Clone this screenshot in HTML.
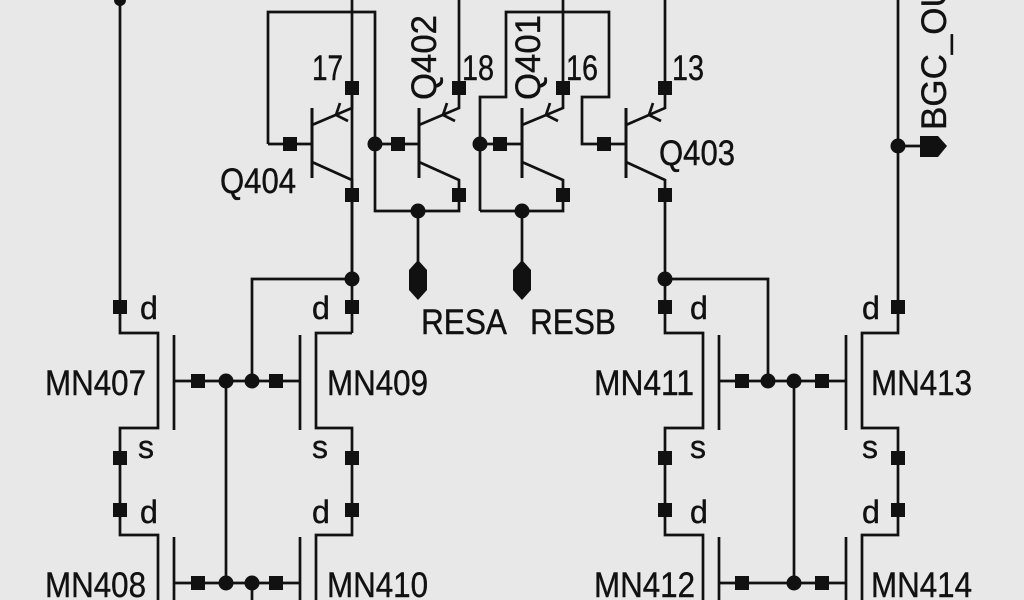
<!DOCTYPE html>
<html><head><meta charset="utf-8"><style>
html,body{margin:0;padding:0;background:#e8e8e8;}
svg{display:block;}
text{font-family:"Liberation Sans",sans-serif;fill:#111;}
</style></head><body>
<svg width="1024" height="600" viewBox="0 0 1024 600" xmlns="http://www.w3.org/2000/svg">
<rect width="1024" height="600" fill="#e8e8e8"/>
<g stroke="#111" stroke-width="2.7" fill="none">
<polyline points="120,0 120,333 158,333 158,428 120,428 120,535 158,535 158,600"/>
<line x1="174" y1="335" x2="174" y2="430"/>
<line x1="174" y1="537" x2="174" y2="600"/>
<line x1="352" y1="0" x2="352" y2="333"/>
<polyline points="352,333 316,333 316,428 352,428 352,535 316,535 316,600"/>
<line x1="300" y1="335" x2="300" y2="430"/>
<line x1="300" y1="537" x2="300" y2="600"/>
<line x1="174" y1="381" x2="300" y2="381"/>
<line x1="174" y1="583" x2="300" y2="583"/>
<line x1="226" y1="381" x2="226" y2="583"/>
<polyline points="252,381 252,279 352,279"/>
<line x1="252" y1="583" x2="252" y2="600"/>
<!-- Q404 -->
<line x1="312" y1="108" x2="312" y2="178" stroke-width="3"/>
<polyline points="268,144 312,144"/>
<polyline points="312,125 352,108 352,88"/>
<polyline points="312,162 352,180 352,279"/>
<polyline points="268,144 268,12 375,12 375,211 459,211 459,180 419,162"/>
<polyline points="340,103 336,115 348,121"/>
<!-- Q402 -->
<line x1="419" y1="108" x2="419" y2="178" stroke-width="3"/>
<line x1="375" y1="144" x2="419" y2="144"/>
<polyline points="419,125 459,108 459,0"/>
<polyline points="447,103 443,115 455,121"/>
<line x1="418" y1="211" x2="418" y2="262"/>
<!-- Q401 -->
<line x1="522" y1="108" x2="522" y2="178" stroke-width="3"/>
<line x1="480" y1="144" x2="522" y2="144"/>
<polyline points="480,211 480,97 506,97 506,12 609,12 609,97 582,97 582,144 626,144"/>
<polyline points="522,125 563,108 563,0"/>
<polyline points="550,103 546,115 558,121"/>
<polyline points="522,162 563,180 563,211 480,211"/>
<line x1="522" y1="211" x2="522" y2="262"/>
<!-- Q403 -->
<line x1="626" y1="108" x2="626" y2="178" stroke-width="3"/>
<polyline points="626,125 665,108 665,0"/>
<polyline points="653,103 649,115 661,121"/>
<polyline points="626,162 665,180 665,333 703,333 703,428 665,428 665,535 703,535 703,600"/>
<polyline points="665,279 768,279 768,381"/>
<line x1="719" y1="335" x2="719" y2="430"/>
<line x1="719" y1="537" x2="719" y2="600"/>
<line x1="846" y1="335" x2="846" y2="430"/>
<line x1="846" y1="537" x2="846" y2="600"/>
<line x1="719" y1="381" x2="846" y2="381"/>
<line x1="719" y1="583" x2="846" y2="583"/>
<line x1="794" y1="381" x2="794" y2="583"/>
<polyline points="898,0 898,333 862,333 862,428 898,428 898,535 862,535 862,600"/>
<line x1="898" y1="146" x2="922" y2="146"/>
</g>
<g fill="#111">
<rect x="113" y="300" width="14" height="14"/><rect x="113" y="451" width="14" height="14"/><rect x="113" y="503" width="14" height="14"/>
<rect x="345" y="300" width="14" height="14"/><rect x="345" y="451" width="14" height="14"/><rect x="345" y="503" width="14" height="14"/>
<rect x="191" y="374" width="14" height="14"/><rect x="269" y="374" width="14" height="14"/>
<rect x="191" y="576" width="14" height="14"/><rect x="269" y="576" width="14" height="14"/>
<rect x="283" y="137" width="14" height="14"/><rect x="345" y="81" width="14" height="14"/><rect x="345" y="188" width="14" height="14"/>
<rect x="391" y="137" width="14" height="14"/><rect x="452" y="81" width="14" height="14"/><rect x="452" y="188" width="14" height="14"/>
<rect x="493" y="137" width="14" height="14"/><rect x="556" y="81" width="14" height="14"/><rect x="556" y="188" width="14" height="14"/>
<rect x="597" y="137" width="14" height="14"/><rect x="658" y="81" width="14" height="14"/><rect x="658" y="188" width="14" height="14"/>
<rect x="658" y="300" width="14" height="14"/><rect x="658" y="451" width="14" height="14"/><rect x="658" y="503" width="14" height="14"/>
<rect x="891" y="300" width="14" height="14"/><rect x="891" y="451" width="14" height="14"/><rect x="891" y="503" width="14" height="14"/>
<rect x="735" y="374" width="14" height="14"/><rect x="815" y="374" width="14" height="14"/>
<rect x="735" y="576" width="14" height="14"/><rect x="815" y="576" width="14" height="14"/>
<circle cx="120" cy="0" r="6"/>
<circle cx="226" cy="381" r="7.5"/><circle cx="252" cy="381" r="7.5"/><circle cx="226" cy="583" r="7.5"/><circle cx="252" cy="583" r="7.5"/>
<circle cx="352" cy="279" r="7.5"/><circle cx="375" cy="144" r="7.5"/><circle cx="418" cy="211" r="7.5"/>
<circle cx="480" cy="144" r="7.5"/><circle cx="522" cy="211" r="7.5"/>
<circle cx="665" cy="279" r="7.5"/><circle cx="768" cy="381" r="7.5"/><circle cx="794" cy="381" r="7.5"/><circle cx="794" cy="583" r="7.5"/>
<circle cx="898" cy="146" r="7.5"/>
<polygon points="418,260 427,270 427,290 418,300 409,290 409,270"/>
<polygon points="522,260 531,270 531,290 522,300 513,290 513,270"/>
<polygon points="920,136 938,136 947,146 938,157 920,157"/>
</g>
<g font-size="35" stroke="#111" stroke-width="0.4">
<text x="45" y="395" textLength="101" lengthAdjust="spacingAndGlyphs">MN407</text>
<text x="45" y="597" textLength="101" lengthAdjust="spacingAndGlyphs">MN408</text>
<text x="327" y="395" textLength="101" lengthAdjust="spacingAndGlyphs">MN409</text>
<text x="327" y="597" textLength="101" lengthAdjust="spacingAndGlyphs">MN410</text>
<text x="594" y="395" textLength="100" lengthAdjust="spacingAndGlyphs">MN411</text>
<text x="594" y="597" textLength="101" lengthAdjust="spacingAndGlyphs">MN412</text>
<text x="871" y="395" textLength="101" lengthAdjust="spacingAndGlyphs">MN413</text>
<text x="871" y="597" textLength="101" lengthAdjust="spacingAndGlyphs">MN414</text>
<text x="220" y="193" textLength="76" lengthAdjust="spacingAndGlyphs">Q404</text>
<text x="659" y="165" textLength="76" lengthAdjust="spacingAndGlyphs">Q403</text>
<text x="421" y="334" textLength="86" lengthAdjust="spacingAndGlyphs">RESA</text>
<text x="530" y="334" textLength="86" lengthAdjust="spacingAndGlyphs">RESB</text>
<text x="312" y="80" textLength="31" lengthAdjust="spacingAndGlyphs">17</text>
<text x="462" y="80" textLength="32" lengthAdjust="spacingAndGlyphs">18</text>
<text x="566" y="80" textLength="32" lengthAdjust="spacingAndGlyphs">16</text>
<text x="672" y="80" textLength="32" lengthAdjust="spacingAndGlyphs">13</text>
<g font-size="32">
<text x="140" y="319">d</text><text x="138" y="458">s</text><text x="140" y="523">d</text>
<text x="312" y="319">d</text><text x="312" y="458">s</text><text x="312" y="523">d</text>
<text x="690" y="319">d</text><text x="690" y="458">s</text><text x="690" y="523">d</text>
<text x="862" y="319">d</text><text x="862" y="458">s</text><text x="862" y="523">d</text>
</g>
<text transform="translate(436,100) rotate(-90)" textLength="85" lengthAdjust="spacingAndGlyphs">Q402</text>
<text transform="translate(540,100) rotate(-90)" textLength="85" lengthAdjust="spacingAndGlyphs">Q401</text>
<text transform="translate(946,130) rotate(-90)">BGC_OUT</text>
</g>
</svg>
</body></html>
